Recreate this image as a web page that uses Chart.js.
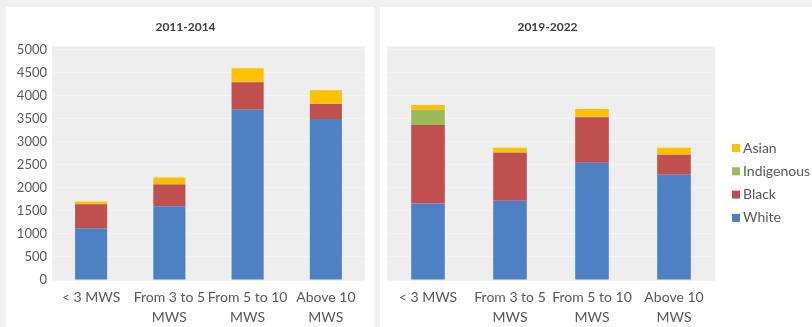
<!DOCTYPE html>
<html>
<head>
<meta charset="utf-8">
<script src="https://cdn.jsdelivr.net/npm/chart.js@4.4.1/dist/chart.umd.min.js"></script>
<style>
  html, body { margin: 0; padding: 0; background: #f1f1f1; }
  body { width: 812px; height: 327px; position: relative; overflow: hidden; }
  .panel { position: absolute; top: 7px; height: 320px; background: #fff; }
  #p1 { left: 6px; width: 368px; }
  #p2 { left: 380px; width: 432px; }
</style>
</head>
<body>
<div class="panel" id="p1"><canvas id="c1" width="368" height="320"></canvas></div>
<div class="panel" id="p2"><canvas id="c2" width="432" height="320"></canvas></div>
<script>
// categories (monthly wage brackets)
var categories = [['< 3 MWS'], ['From 3 to 5', 'MWS'], ['From 5 to 10', 'MWS'], ['Above 10', 'MWS']];
var yTicks = [0, 500, 1000, 1500, 2000, 2500, 3000, 3500, 4000, 4500, 5000];

// 2011-2014
var white1 = [1120, 1600, 3690, 3490];
var black1 = [520, 470, 600, 325];
var indig1 = [10, 10, 10, 5];
var asian1 = [50, 140, 290, 295];

// 2019-2022
var white2 = [1660, 1720, 2540, 2280];
var black2 = [1700, 1040, 990, 435];
var indig2 = [330, 10, 10, 5];
var asian2 = [105, 100, 170, 150];

var colors = { white: '#4e80c4', black: '#c0504d', indig: '#9bbb59', asian: '#ffc000' };
var FONT = 'Lato, "Open Sans", sans-serif';
var TXT = '#595959';

Chart.defaults.font.family = FONT;
Chart.defaults.color = TXT;

function makeSets(w, b, i, a) {
  return [
    { label: 'White', data: w, backgroundColor: colors.white },
    { label: 'Black', data: b, backgroundColor: colors.black },
    { label: 'Indigenous', data: i, backgroundColor: colors.indig },
    { label: 'Asian', data: a, backgroundColor: colors.asian }
  ];
}

// grey plot background
var plotBg = {
  id: 'plotBg',
  beforeDraw: function(chart) {
    var a = chart.chartArea, ctx = chart.ctx;
    ctx.save();
    ctx.fillStyle = '#eeeeee';
    ctx.fillRect(a.left, a.top - 3, a.right - a.left, a.bottom - a.top + 3);
    ctx.restore();
  }
};

// legend drawn on the right, top entry = last dataset
var sideLegend = {
  id: 'sideLegend',
  afterDraw: function(chart, args, opts) {
    if (!opts.show) return;
    var ctx = chart.ctx;
    var sets = chart.data.datasets.slice().reverse();
    ctx.save();
    ctx.font = '14px ' + FONT;
    ctx.textBaseline = 'middle';
    sets.forEach(function(ds, k) {
      var y = opts.y + k * opts.step;
      ctx.fillStyle = ds.backgroundColor;
      ctx.fillRect(opts.x, y - 4, 8, 8);
      ctx.fillStyle = TXT;
      ctx.fillText(ds.label, opts.x + 11, y);
    });
    ctx.restore();
  }
};

function makeChart(id, title, sets, showY, padRight, axisW, legendOpts) {
  return new Chart(document.getElementById(id), {
    type: 'bar',
    data: { labels: categories, datasets: sets },
    plugins: [plotBg, sideLegend],
    options: {
      responsive: false,
      animation: false,
      layout: { padding: { top: 0, right: padRight, bottom: 0, left: 0 } },
      datasets: { bar: { barPercentage: 0.41, categoryPercentage: 1 } },
      plugins: {
        legend: { display: false },
        tooltip: { enabled: false },
        title: {
          display: true, text: title, color: '#404040',
          font: { size: 12, weight: 'bold' },
          padding: { top: 13, bottom: 15 }
        },
        sideLegend: legendOpts
      },
      scales: {
        x: {
          stacked: true,
          grid: { display: false, drawTicks: false },
          border: { display: false },
          ticks: { color: TXT, font: { size: 14, lineHeight: 1.4 }, padding: 8, maxRotation: 0, autoSkip: false },
          afterFit: function(s) { s.height = 47; }
        },
        y: {
          stacked: true,
          min: 0, max: 5000,
          afterBuildTicks: function(s) { s.ticks = yTicks.map(function(v) { return { value: v }; }); },
          grid: { color: '#f3f3f3', drawTicks: false },
          border: { display: false },
          ticks: {
            display: showY, color: TXT, font: { size: 13 }, padding: 5,
            callback: function(v) { return String(v); }
          },
          afterFit: function(s) { s.width = axisW; }
        }
      }
    }
  });
}

makeChart('c1', '2011-2014', makeSets(white1, black1, indig1, asian1), true, 9, 46, { show: false });
makeChart('c2', '2019-2022', makeSets(white2, black2, indig2, asian2), false, 97, 7,
  { show: true, x: 352, y: 141, step: 23.3 });
</script>
</body>
</html>
